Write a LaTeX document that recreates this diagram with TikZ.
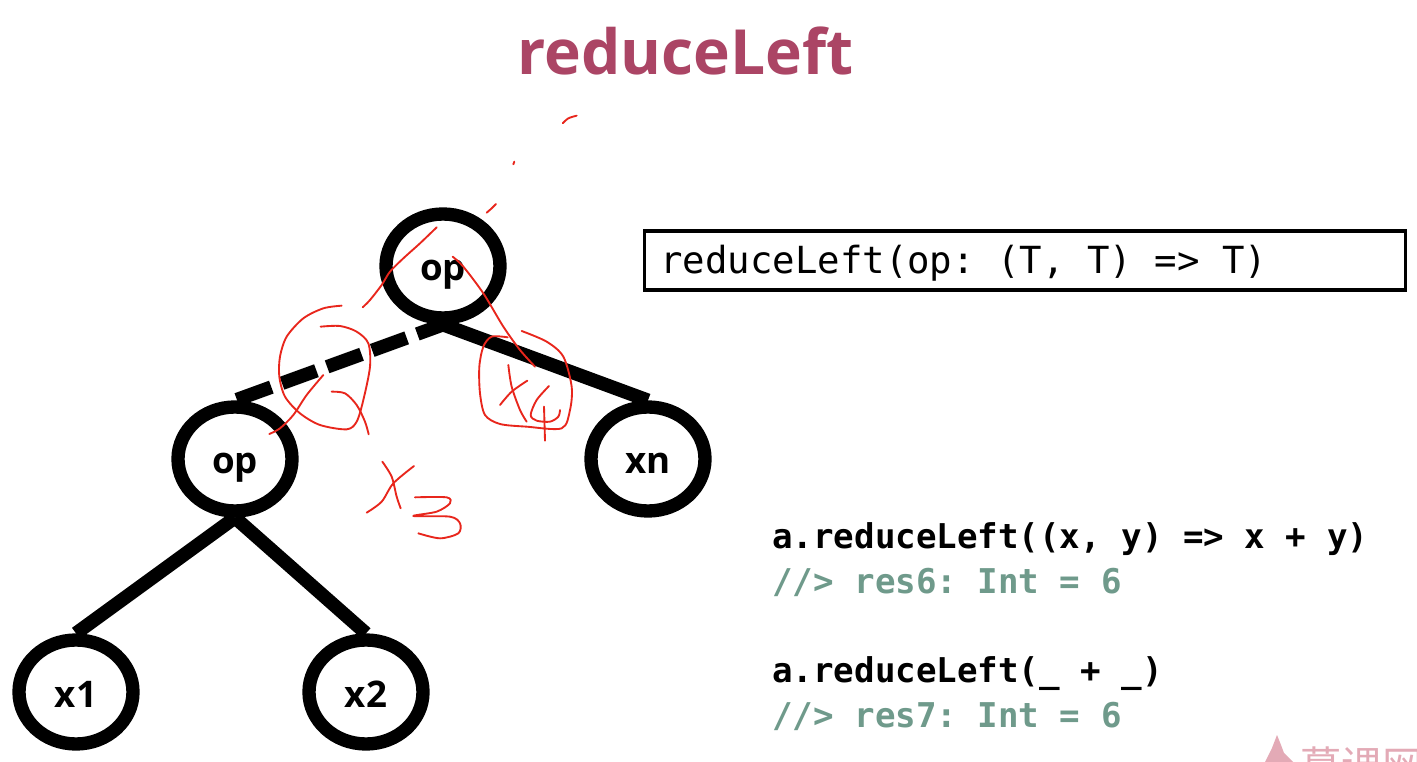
\documentclass[tikz,border=0pt]{standalone}
\usepackage{fontspec}
\usetikzlibrary{shapes.geometric}
\setmainfont{Open Sans}
\newfontfamily\codefont{DejaVu Sans Mono}
\newfontfamily\cjkwm{Noto Sans CJK SC}
\definecolor{titlec}{HTML}{AB4565}
\definecolor{cmt}{HTML}{6F9A8B}
\definecolor{inkred}{HTML}{E8261C}
\definecolor{wm}{HTML}{E3AAB6}
\frenchspacing
\tikzset{
  treenode/.style={ellipse,draw=black,line width=10pt,fill=white,minimum width=85.5pt,minimum height=78pt,inner sep=0pt,text height=22.5pt,text depth=0pt,font=\bfseries\fontsize{27.5}{30}\selectfont},
  edgeline/.style={line width=10.2pt,black},
  dashedge/.style={edgeline,dash pattern=on 27.5pt off 8.5pt,dash phase=7pt},
  codeblack/.style={anchor=base west,inner sep=0pt,text=black,font=\codefont\bfseries\fontsize{25.6}{30}\selectfont},
  codecmt/.style={codeblack,text=cmt},
  redink/.style={draw=inkred,line width=1.4pt,line cap=round,line join=round},
}
\begin{document}
\begin{tikzpicture}[x=0.75pt,y=-0.75pt]
\useasboundingbox (0,0) rectangle (1417,762);
\clip (0,0) rectangle (1417,762);
\fill[white] (0,0) rectangle (1417,762);
% title
\node[anchor=base west,inner sep=0pt,text=titlec,font=\bfseries\fontsize{46.7}{50}\selectfont] (title) at (517,75) {reduceLeft};
% tree nodes
\node[treenode] (root) at (443,266) {op};
\node[treenode] (opl) at (235,459) {op};
\node[treenode] (xn) at (648,459) {xn};
\node[treenode] (x1) at (76,692) {x1};
\node[treenode] (x2) at (366,692) {x2};
\draw[dashedge] (root.south) -- (opl.north);
\draw[edgeline] (root.south) -- (xn.north);
\draw[edgeline] (opl.south) -- (x1.north);
\draw[edgeline] (opl.south) -- (x2.north);
% signature box
\node[draw=black,line width=2.6pt,minimum width=570.5pt,minimum height=44pt,inner sep=0pt] (sig) at (1025,260.5) {};
\node[anchor=base west,inner sep=0pt,font=\codefont\fontsize{28}{30}\selectfont] (sigtext) at (660,274) {reduceLeft(op: (T, T) => T)};
% code
\node[codeblack] (c1) at (772,548) {a.reduceLeft((x, y) => x + y)};
\node[codecmt] (c2) at (772,593) {//> res6: Int = 6};
\node[codeblack] (c3) at (772,682) {a.reduceLeft(\_ + \_)};
\node[codecmt] (c4) at (772,727) {//> res7: Int = 6};
% watermark
\fill[wm] (1265,762) -- (1272,748) -- (1277,735) -- (1281,745) -- (1284,753) -- (1293,762) -- cycle;
\node[anchor=base west,inner sep=0pt,text=wm,font=\cjkwm\fontsize{31}{36}\selectfont] (wmtext) at (1300,781) {慕课网};
% red pen
\begin{scope}[shift={(250,100)},x=0.25pt,y=-0.25pt]
\draw[redink] plot[smooth] coordinates {(938,70)(955,55)(980,47)};
\draw[redink] plot[smooth] coordinates {(790,193)(793,185)};
\draw[redink] plot[smooth] coordinates {(710,338)(725,325)(738,312)};
\draw[redink] plot[smooth] coordinates {(338,622)(360,600)(395,555)(420,515)(460,475)(510,430)(560,382)};
\draw[redink] plot[smooth] coordinates {(608,470)(640,500)(700,580)(760,680)(810,750)(855,800)};
\draw[redink] plot[smooth] coordinates {(275,617)(220,625)(160,655)(110,710)(90,770)(88,830)(105,890)(150,940)(210,975)(290,988)(320,965)(340,900)(360,800)(355,730)(320,695)(270,678)(212,680)};
\draw[redink] plot[smooth] coordinates {(245,875)(285,880)(320,915)(345,965)(356,1003)};
\draw[redink] plot[smooth] coordinates {(58,1002)(90,985)(130,945)(170,885)(220,825)};
\draw[redink] plot[smooth] coordinates {(773,712)(725,710)(700,740)(688,800)(690,880)(705,945)(750,972)(830,980)(935,985)(960,930)(965,860)(940,770)(890,725)(815,693)};
\draw[redink] plot[smooth] coordinates {(775,795)(785,860)(810,930)(830,965)};
\draw[redink] plot[smooth] coordinates {(750,915)(785,875)(832,842)};
\draw[redink] plot[smooth] coordinates {(897,858)(860,900)(842,945)(860,962)(900,965)(925,950)(930,930)};
\draw[redink] plot[smooth] coordinates {(882,920)(885,1022)};
\draw[redink] plot[smooth] coordinates {(397,1085)(425,1130)(440,1190)(452,1225)};
\draw[redink] plot[smooth] coordinates {(350,1238)(395,1205)(430,1150)(492,1098)};
\draw[redink] plot[smooth] coordinates {(495,1192)(590,1192)(600,1210)(560,1235)(490,1248)(600,1250)(630,1270)(625,1300)(570,1315)(505,1300)};
\end{scope}
\end{tikzpicture}
\end{document}
